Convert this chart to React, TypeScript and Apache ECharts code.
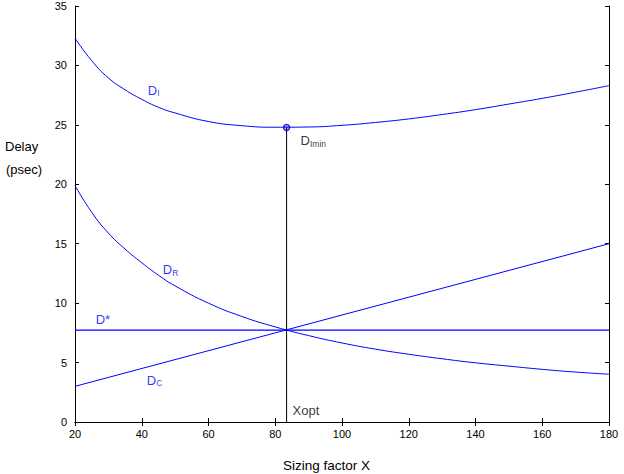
import React, { useEffect, useRef } from "react";
import * as echarts from "echarts";

const xTicks = { min: 20, max: 180, interval: 20 };
const yTicks = { min: 0, max: 35, interval: 5 };

const curveX = [20, 25, 30, 35, 40, 45, 50, 60, 70, 80, 90, 100, 110, 120, 130, 140, 150, 160, 170, 180];
const dTotalY = [32.3, 30.4, 28.95, 27.95, 27.15, 26.48, 26.0, 25.28, 24.93, 24.8, 24.82, 24.96, 25.2, 25.5, 25.87, 26.28, 26.75, 27.23, 27.75, 28.3];
const dRY = [19.9, 17.65, 15.9, 14.55, 13.4, 12.35, 11.45, 10.0, 8.88, 8.0, 7.27, 6.65, 6.13, 5.7, 5.32, 4.98, 4.7, 4.43, 4.2, 4.02];

const dCX = [20, 180];
const dCY = [3.0, 15.0];

const dStarX = [20, 180];
const dStarY = [7.73, 7.73];

const xOpt = 83.4;
const dMin = 24.78;

// annotation labels: [x, y, main, sub, color]
const annotations: [number, number, string, string, string][] = [
  [41.8, 27.9, "D", "I", "#0000ff"],
  [87.6, 23.65, "D", "Imin", "#000000"],
  [46.3, 12.8, "D", "R", "#0000ff"],
  [26.2, 8.6, "D*", "", "#0000ff"],
  [41.5, 3.5, "D", "C", "#0000ff"],
  [85.2, 1.0, "Xopt", "", "#000000"],
];

const FONT = "'Liberation Sans', Arial, Helvetica, sans-serif";
const BLUE = "#0000ff";

function pairs(xs: number[], ys: number[]) {
  return xs.map((x, i) => [x, ys[i]]);
}

export default function App() {
  const ref = useRef<HTMLDivElement>(null);
  useEffect(() => {
    if (!ref.current) return;
    const chart = echarts.init(ref.current, undefined, { renderer: "svg" });
    const axisLine = { show: true, lineStyle: { color: "#000", width: 1 } };
    const tickIn = { show: true, inside: true, length: 4, lineStyle: { color: "#000" } };
    const option: any = {
      animation: false,
      backgroundColor: "#fff",
      textStyle: { fontFamily: FONT },
      grid: { left: 75, top: 6, right: 15, bottom: 52, containLabel: false, outerBoundsMode: "none" },
      xAxis: [
        {
          type: "value",
          ...xTicks,
          position: "bottom",
          axisLine,
          axisTick: tickIn,
          splitLine: { show: false },
          axisLabel: { color: "#000", fontSize: 11, margin: 6, fontFamily: FONT },
        },
        {
          type: "value",
          ...xTicks,
          position: "top",
          axisLine,
          axisTick: tickIn,
          splitLine: { show: false },
          axisLabel: { show: false },
        },
      ],
      yAxis: [
        {
          type: "value",
          ...yTicks,
          position: "left",
          axisLine,
          axisTick: tickIn,
          splitLine: { show: false },
          axisLabel: { color: "#000", fontSize: 11, margin: 8, fontFamily: FONT },
        },
        {
          type: "value",
          ...yTicks,
          position: "right",
          axisLine,
          axisTick: tickIn,
          splitLine: { show: false },
          axisLabel: { show: false },
        },
      ],
      graphic: [
        {
          type: "text",
          left: 5,
          top: 140,
          style: { text: "Delay", fill: "#000", font: `13px ${FONT}` },
        },
        {
          type: "text",
          left: 6,
          top: 163,
          style: { text: "(psec)", fill: "#000", font: `13px ${FONT}` },
        },
        {
          type: "text",
          left: 283,
          top: 458,
          style: { text: "Sizing factor X", fill: "#000", font: `13.5px ${FONT}` },
        },
      ],
      series: [
        {
          type: "line",
          name: "DI",
          data: pairs(curveX, dTotalY),
          symbol: "none",
          smooth: 0.5,
          lineStyle: { color: BLUE, width: 1 },
        },
        {
          type: "line",
          name: "DR",
          data: pairs(curveX, dRY),
          symbol: "none",
          smooth: 0.5,
          lineStyle: { color: BLUE, width: 1 },
        },
        {
          type: "line",
          name: "DC",
          data: pairs(dCX, dCY),
          symbol: "none",
          lineStyle: { color: BLUE, width: 1 },
        },
        {
          type: "line",
          name: "Dstar",
          data: pairs(dStarX, dStarY),
          symbol: "none",
          lineStyle: { color: BLUE, width: 1.2 },
        },
        {
          type: "line",
          name: "Xopt",
          data: [
            [xOpt, 0],
            [xOpt, dMin],
          ],
          symbol: "none",
          lineStyle: { color: "#000", width: 1 },
          z: 1,
        },
        {
          type: "scatter",
          name: "min",
          data: [[xOpt, dMin]],
          symbol: "circle",
          symbolSize: 6,
          itemStyle: { color: "rgba(0,0,200,0.35)", borderColor: "#0000cc", borderWidth: 1.5 },
          z: 5,
        },
        {
          type: "scatter",
          name: "labels",
          symbolSize: 0,
          silent: true,
          data: annotations.map(([x, y, m, s, c]) => ({
            value: [x, y],
            label: {
              show: true,
              position: "right",
              distance: 0,
              formatter: s ? `{m|${m}}{s|${s}}` : `{m|${m}}`,
              rich: {
                m: { fontSize: 13, color: c, fontFamily: FONT, lineHeight: 15 },
                s: { fontSize: 8.5, color: c, fontFamily: FONT, verticalAlign: "bottom", lineHeight: 15, padding: [6, 0, 0, 0] },
              },
            },
          })),
        },
      ],
    };
    chart.setOption(option);
    return () => chart.dispose();
  }, []);
  return (
    <div
      ref={ref}
      style={{ position: "fixed", left: 0, top: 0, width: 624, height: 474, background: "#fff" }}
    />
  );
}
